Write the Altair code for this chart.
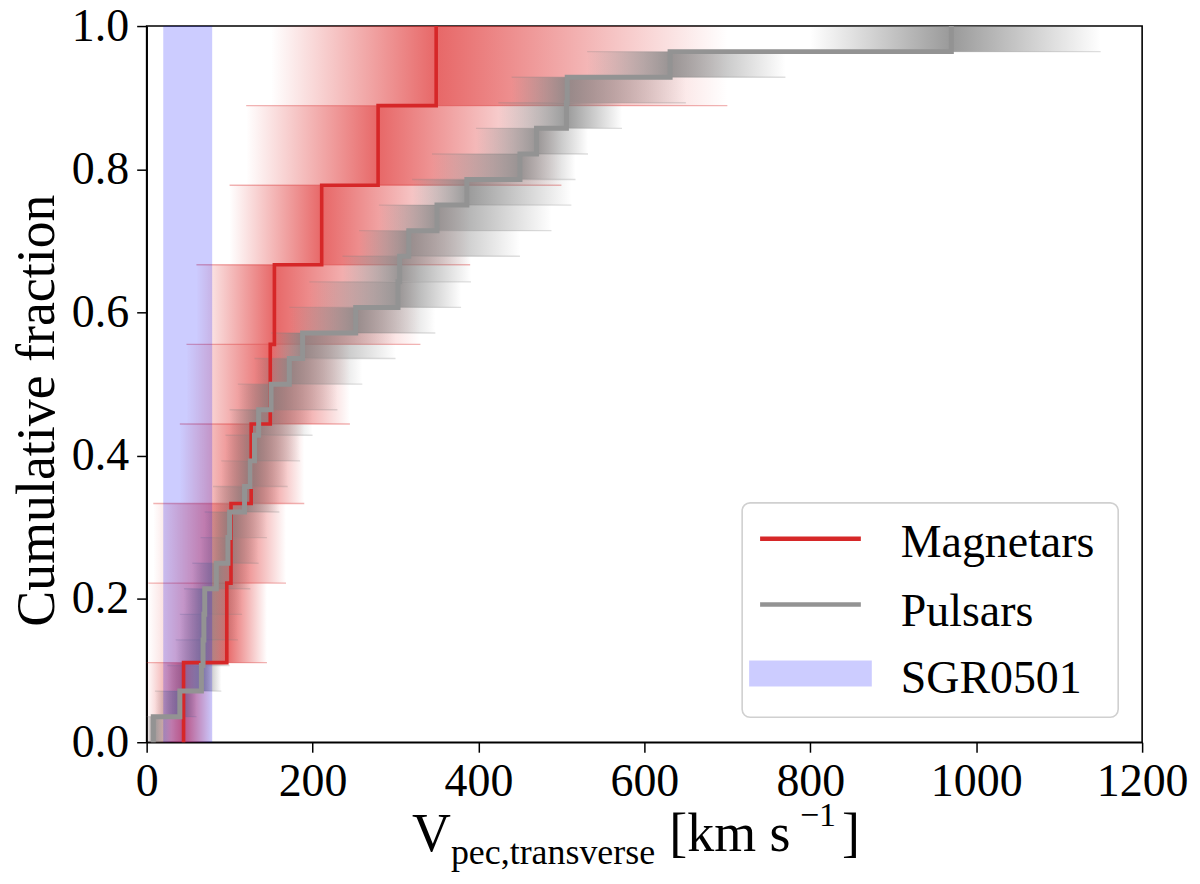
import altair as alt
import pandas as pd

# ---- data ----
# sorted transverse peculiar velocities (km/s) at each step of the cumulative fraction
mag_v = [44.5, 96.6, 101.7, 126, 149, 154, 211, 279, 349]
psr_v = [8, 40, 66, 68, 69, 70, 84, 98, 100, 118, 125, 130, 135, 150, 172, 188,
         252, 303, 305, 316, 350, 386, 450, 470, 506, 507, 631, 970]

# spread of the faint (resampled) curves around each step: low / high velocity
mag_lo = [0, 2, 8, 40, 48, 60, 100, 120, 150]
mag_hi = [80, 145, 168, 190, 245, 330, 390, 500, 700]
psr_lo = [0, 10, 25, 35, 40, 45, 55, 65, 70, 80, 90, 95, 100, 110, 130, 150,
          172, 196, 236, 256, 280, 320, 344, 397, 424, 440, 531, 800]
psr_hi = [30, 60, 90, 100, 110, 115, 125, 135, 145, 160, 170, 185, 200, 230, 260, 300,
          348, 379, 391, 450, 488, 512, 517, 532, 573, 650, 770, 1150]

sgr_range = [20, 79]

x_ticks = [0, 200, 400, 600, 800, 1000, 1200]
y_ticks = [0.0, 0.2, 0.4, 0.6, 0.8, 1.0]

legend_labels = ["Magnetars", "Pulsars", "SGR0501"]

RED = "#d62728"
GRAY = "#939393"
FONT = "Liberation Serif"
W, H = 998, 718


def step_df(vals):
    n = len(vals)
    xs = [vals[0]] + list(vals)
    ys = [0.0] + [(i + 1) / n for i in range(n)]
    return pd.DataFrame({"v": xs, "f": ys, "idx": list(range(n + 1))})


def band_df(vals, lo, hi):
    n = len(vals)
    return pd.DataFrame({"lo": lo, "c": vals, "hi": hi,
                         "y0": [i / n for i in range(n)],
                         "y1": [(i + 1) / n for i in range(n)]})


def level_df(vals, lo, hi):
    n = len(vals)
    return pd.DataFrame({"a": lo[:-1], "b": hi[1:],
                         "y": [(k + 1) / n for k in range(n - 1)]})


xscale = alt.Scale(domain=[0, 1200], nice=False, zero=False)
yscale = alt.Scale(domain=[0, 1], nice=False, zero=False)

xaxis = alt.Axis(values=x_ticks, format="d", title=None, grid=False,
                 labelFont=FONT, labelFontSize=46, labelColor="black",
                 labelFlush=False, labelOverlap=False, labelPadding=7,
                 tickColor="black", tickSize=10, tickWidth=1.5,
                 domainColor="black", domainWidth=1.6)
yaxis = alt.Axis(values=y_ticks, format=".1f", title="Cumulative fraction", grid=False,
                 labelFont=FONT, labelFontSize=46, labelColor="black",
                 labelFlush=False, labelOverlap=False, labelPadding=8,
                 tickColor="black", tickSize=10, tickWidth=1.5,
                 domainColor="black", domainWidth=1.6,
                 titleFont=FONT, titleFontSize=54, titleFontWeight="normal",
                 titleColor="black", titlePadding=7, titleY=385)


def X(field):
    return alt.X(field, type="quantitative", scale=xscale, axis=xaxis)


def Y(field):
    return alt.Y(field, type="quantitative", scale=yscale, axis=yaxis)


def grad(rgb, peak, rising):
    stops = [(0.0, 0.0), (0.45, peak * 0.45), (1.0, peak)]
    if not rising:
        stops = [(1 - o, a) for o, a in reversed(stops)]
    return alt.LinearGradient(
        gradient="linear", x1=0, x2=1, y1=0, y2=0,
        stops=[alt.GradientStop(offset=o, color=f"rgba({rgb},{a:.3f})") for o, a in stops])


def band_layers(vals, lo, hi, rgb, peak, rule_color, rule_op):
    bd = band_df(vals, lo, hi)
    left = alt.Chart(bd).mark_rect(color=grad(rgb, peak, True)).encode(
        x=X("lo"), x2="c:Q", y=Y("y0"), y2="y1:Q")
    right = alt.Chart(bd).mark_rect(color=grad(rgb, peak, False)).encode(
        x=X("c"), x2="hi:Q", y=Y("y0"), y2="y1:Q")
    rules = alt.Chart(level_df(vals, lo, hi)).mark_rule(
        color=rule_color, opacity=rule_op, strokeWidth=1.4).encode(
        x=X("a"), x2="b:Q", y=Y("y"))
    return [left, right, rules]


red_bands = band_layers(mag_v, mag_lo, mag_hi, "222,45,45", 0.72, RED, 0.35)
gray_bands = band_layers(psr_v, psr_lo, psr_hi, "128,128,128", 0.8, "#808080", 0.25)

sgr = alt.Chart(pd.DataFrame({"a": [sgr_range[0]], "b": [sgr_range[1]]})).mark_rect(
    color="blue", opacity=0.2).encode(
    x=X("a"), x2="b:Q", y=alt.value(0), y2=alt.value(H))

red_line = alt.Chart(step_df(mag_v)).mark_line(
    color=RED, strokeWidth=3.6, interpolate="step-after", strokeJoin="miter").encode(
    x=X("v"), y=Y("f"), order="idx:Q")
gray_line = alt.Chart(step_df(psr_v)).mark_line(
    color=GRAY, strokeWidth=5, interpolate="step-after", strokeJoin="miter").encode(
    x=X("v"), y=Y("f"), order="idx:Q")

one = alt.Data(values=[{"k": 0}])

legend_box = alt.Chart(one).mark_rect(
    fill="white", fillOpacity=0.85, stroke="#d0d0d0", strokeWidth=1.6, cornerRadius=8).encode(
    x=alt.value(597), x2=alt.value(974), y=alt.value(478), y2=alt.value(693))
leg_red = alt.Chart(one).mark_rule(color=RED, strokeWidth=4.5).encode(
    x=alt.value(615), x2=alt.value(716), y=alt.value(514))
leg_gray = alt.Chart(one).mark_rule(color=GRAY, strokeWidth=4.5).encode(
    x=alt.value(615), x2=alt.value(716), y=alt.value(580))
leg_blue = alt.Chart(one).mark_rect(color="blue", opacity=0.2).encode(
    x=alt.value(604), x2=alt.value(727), y=alt.value(636), y2=alt.value(662))


def txt(s, x, y, size):
    return alt.Chart(one).mark_text(font=FONT, fontSize=size, align="left",
                                    baseline="alphabetic", color="black").encode(
        x=alt.value(x), y=alt.value(y), text=alt.value(s))


leg_texts = [txt(legend_labels[0], 756, 532, 46),
             txt(legend_labels[1], 756, 601, 46),
             txt(legend_labels[2], 756, 669, 46)]

x_title = [txt("V", 266, 827, 54),
           txt("pec,transverse", 305, 840, 36),
           txt("[km s", 524, 827, 54),
           txt("\u22121", 655, 802, 34),
           txt("]", 697, 827, 54)]

chart = alt.layer(
    *red_bands, *gray_bands, sgr, red_line, gray_line,
    legend_box, leg_red, leg_gray, leg_blue, *leg_texts, *x_title
).properties(
    width=W, height=H,
    autosize=alt.AutoSizeParams(type="none"),
    padding={"left": 139, "top": 17, "right": 50, "bottom": 130},
    background="white",
).configure_view(stroke="black", strokeWidth=1.6)

chart.save("out.html", embed_options={"renderer": "svg", "actions": False})
